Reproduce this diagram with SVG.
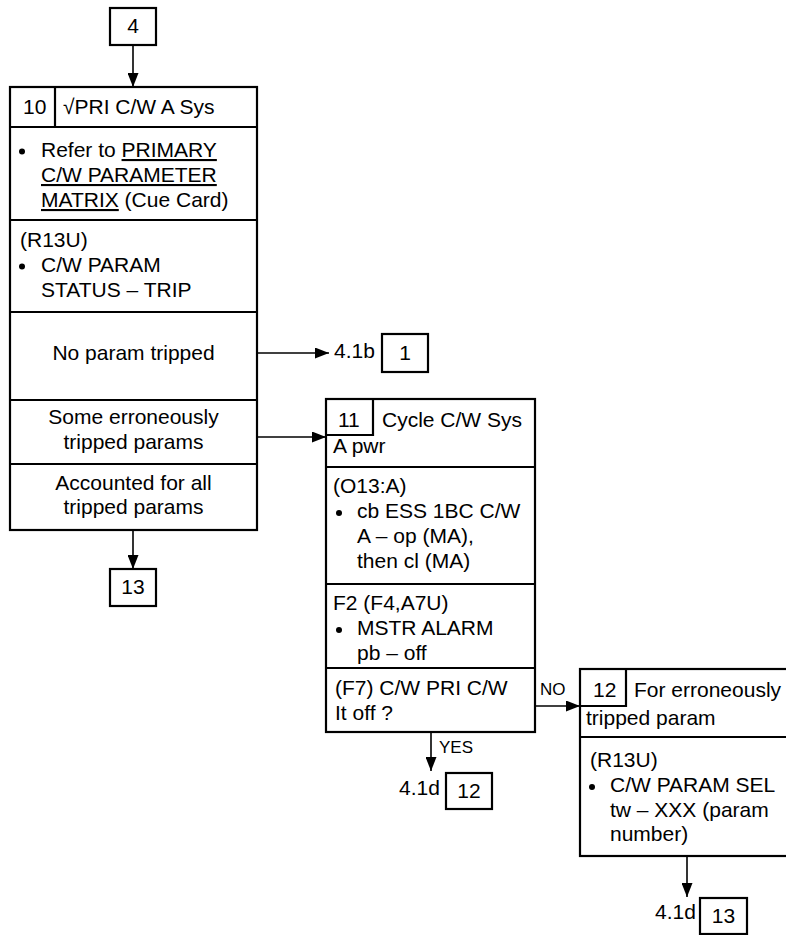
<svg xmlns="http://www.w3.org/2000/svg" width="786" height="935" viewBox="0 0 786 935">
<defs>
<marker id="ah" markerWidth="14" markerHeight="11" refX="14" refY="5.5" orient="auto" markerUnits="userSpaceOnUse">
<path d="M0,0 L14,5.5 L0,11 Z" fill="#000"/>
</marker>
<style>
text{font-family:"Liberation Sans",Arial,sans-serif;font-size:21px;fill:#000}
.c{text-anchor:middle}
.lbl{font-size:17px}
.box{fill:#fff;stroke:#000;stroke-width:2.2}
.ln{stroke:#000;stroke-width:2.2;fill:none}
.conn{stroke:#000;stroke-width:1.6;fill:none}
.u{text-decoration:underline}
.dot{fill:#000}
</style>
</defs>
<rect width="786" height="935" fill="#fff"/>

<g id="connectors">
<line class="conn" x1="133" y1="45" x2="133" y2="87" marker-end="url(#ah)"/>
<line class="conn" x1="257" y1="353" x2="329" y2="353" marker-end="url(#ah)"/>
<line class="conn" x1="257" y1="437" x2="326" y2="437" marker-end="url(#ah)"/>
<line class="conn" x1="133" y1="530" x2="133" y2="569" marker-end="url(#ah)"/>
<line class="conn" x1="535" y1="706" x2="580" y2="706" marker-end="url(#ah)"/>
<line class="conn" x1="431" y1="732" x2="431" y2="771" marker-end="url(#ah)"/>
<line class="conn" x1="687" y1="856" x2="687" y2="897" marker-end="url(#ah)"/>
<text class="lbl" x="540" y="695">NO</text>
<text class="lbl" x="439" y="753">YES</text>
</g>

<g id="ref4">
<rect class="box" x="110" y="8" width="46" height="37"/>
<text class="c" x="133" y="33">4</text>
</g>

<g id="step10">
<rect class="box" x="10" y="87" width="247" height="443"/>
<line class="ln" x1="55" y1="87" x2="55" y2="127"/>
<line class="ln" x1="10" y1="127" x2="257" y2="127"/>
<line class="ln" x1="10" y1="220" x2="257" y2="220"/>
<line class="ln" x1="10" y1="312" x2="257" y2="312"/>
<line class="ln" x1="10" y1="400" x2="257" y2="400"/>
<line class="ln" x1="10" y1="464" x2="257" y2="464"/>
<text x="23" y="114">10</text>
<text x="63" y="114">√PRI C/W A Sys</text>
<circle class="dot" cx="22" cy="151.5" r="3"/>
<text x="41" y="157">Refer to <tspan class="u">PRIMARY</tspan></text>
<text x="41" y="182" class="u">C/W PARAMETER</text>
<text x="41" y="207"><tspan class="u">MATRIX</tspan> (Cue Card)</text>
<text x="20" y="247">(R13U)</text>
<circle class="dot" cx="22" cy="266.5" r="3"/>
<text x="41" y="272">C/W PARAM</text>
<text x="41" y="297">STATUS – TRIP</text>
<text class="c" x="133.5" y="360">No param tripped</text>
<text class="c" x="133.5" y="424">Some erroneously</text>
<text class="c" x="133.5" y="449">tripped params</text>
<text class="c" x="133.5" y="490">Accounted for all</text>
<text class="c" x="133.5" y="514">tripped params</text>
</g>

<g id="ref41b-1">
<text x="334" y="358">4.1b</text>
<rect class="box" x="382" y="334" width="46" height="38"/>
<text class="c" x="405" y="360">1</text>
</g>

<g id="ref13a">
<rect class="box" x="110" y="569" width="46" height="37"/>
<text class="c" x="133" y="594">13</text>
</g>

<g id="step11">
<rect class="box" x="326" y="399" width="209" height="333"/>
<polyline class="ln" points="373,399 373,435 326,435"/>
<line class="ln" x1="326" y1="467" x2="535" y2="467"/>
<line class="ln" x1="326" y1="584" x2="535" y2="584"/>
<line class="ln" x1="326" y1="668" x2="535" y2="668"/>
<text x="338" y="427">11</text>
<text x="382" y="427">Cycle C/W Sys</text>
<text x="333" y="453">A pwr</text>
<text x="333" y="493">(O13:A)</text>
<circle class="dot" cx="339" cy="513" r="3"/>
<text x="357" y="518">cb ESS 1BC C/W</text>
<text x="357" y="543">A – op (MA),</text>
<text x="357" y="568">then cl (MA)</text>
<text x="333" y="610">F2 (F4,A7U)</text>
<circle class="dot" cx="339" cy="630" r="3"/>
<text x="357" y="635">MSTR ALARM</text>
<text x="357" y="660">pb – off</text>
<text x="335" y="695">(F7) C/W PRI C/W</text>
<text x="335" y="720">It off ?</text>
</g>

<g id="ref41d-12">
<text x="399" y="795">4.1d</text>
<rect class="box" x="446" y="773" width="46" height="36"/>
<text class="c" x="469" y="798">12</text>
</g>

<g id="step12">
<rect class="box" x="580" y="669" width="212" height="187"/>
<polyline class="ln" points="626,669 626,706 580,706"/>
<line class="ln" x1="580" y1="737" x2="792" y2="737"/>
<text x="593" y="697">12</text>
<text x="634" y="697">For erroneously</text>
<text x="586" y="725">tripped param</text>
<text x="590" y="767">(R13U)</text>
<circle class="dot" cx="592" cy="787" r="3"/>
<text x="610" y="792">C/W PARAM SEL</text>
<text x="610" y="817">tw – XXX (param</text>
<text x="610" y="841">number)</text>
</g>

<g id="ref41d-13">
<text x="655" y="919">4.1d</text>
<rect class="box" x="700" y="898" width="47" height="36"/>
<text class="c" x="723.5" y="923">13</text>
</g>
</svg>
